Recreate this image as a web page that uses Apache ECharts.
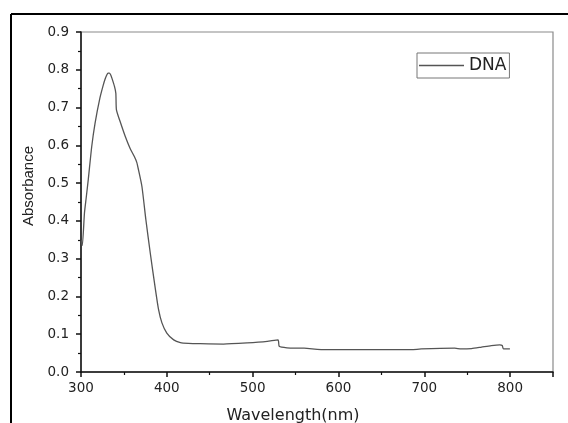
<!DOCTYPE html>
<html>
<head>
<meta charset="utf-8">
<script src="https://cdn.jsdelivr.net/npm/echarts@6/dist/echarts.min.js"></script>
<style>html,body{margin:0;padding:0;background:#fff;}#c{width:568px;height:423px;}</style>
</head>
<body>
<div id="c"></div>
<script>
const wavelength = [300,301.5,304,306,308.5,312.5,316.4,322,326,328,330,331.5,333,334.5,336,339,340.6,341.3,345.6,351.5,357,362,365,367,371,375.6,380.7,386.5,390.4,394.3,400,408,415.8,425,439,466,493.5,517,529.6,531,540,560,585.4,638,684.8,696.5,735.4,743,755,766.7,778,788,790.8,792.3,799.8];
const absorbance = [0.35,0.335,0.42,0.46,0.51,0.597,0.659,0.725,0.760,0.775,0.786,0.791,0.791,0.787,0.778,0.756,0.738,0.694,0.663,0.624,0.593,0.571,0.555,0.535,0.491,0.403,0.315,0.222,0.165,0.130,0.103,0.085,0.078,0.076,0.075,0.074,0.077,0.081,0.085,0.068,0.064,0.063,0.059,0.059,0.059,0.061,0.063,0.061,0.062,0.066,0.070,0.072,0.070,0.061,0.061];
const seriesName = 'DNA';
const xTitle = 'Wavelength(nm)';
const yTitle = 'Absorbance';

const chart = echarts.init(document.getElementById('c'), null, {renderer: 'canvas'});
const tickFont = {fontFamily: 'DejaVu Sans', fontSize: 13.5, color: '#222'};
chart.setOption({
  animation: false,
  grid: {left: 81, top: 32, right: 15, bottom: 51, outerBoundsMode: 'none', containLabel: false, show: true, borderColor: '#8a8a8a', borderWidth: 1.2, backgroundColor: 'transparent'},
  legend: {
    data: [{name: seriesName, icon: 'path://M0 0H45V1.3H0Z'}], left: 417, top: 53, orient: 'horizontal',
    itemWidth: 45, itemHeight: 1.3, itemGap: 5,
    borderColor: '#777', borderWidth: 1, padding: [4, 3, 4, 2],
    itemStyle: {color: '#555'},
    textStyle: {fontFamily: 'DejaVu Sans', fontSize: 17, color: '#222'}
  },
  xAxis: {
    type: 'value', min: 300, max: 850, interval: 100,
    name: xTitle, nameLocation: 'middle', nameGap: 36,
    nameTextStyle: {fontFamily: 'DejaVu Sans', fontSize: 16, color: '#222', padding: [0, 48, 0, 0]},
    axisLine: {show: true, onZero: false, lineStyle: {color: '#111', width: 1.5}},
    axisTick: {show: true, length: 5, lineStyle: {color: '#111', width: 1.5}},
    minorTick: {show: true, splitNumber: 2, length: 3, lineStyle: {color: '#111', width: 1.2}},
    axisLabel: Object.assign({margin: 9, showMaxLabel: false}, tickFont),
    splitLine: {show: false}
  },
  yAxis: {
    type: 'value', min: 0, max: 0.9, interval: 0.1,
    name: yTitle, nameLocation: 'middle', nameGap: 44, nameRotate: 90,
    nameTextStyle: {fontFamily: 'Liberation Sans', fontSize: 15, color: '#222', padding: [0, 0, 0, 32]},
    axisLine: {show: true, onZero: false, lineStyle: {color: '#111', width: 1.5}},
    axisTick: {show: true, length: 5, lineStyle: {color: '#111', width: 1.5}},
    minorTick: {show: true, splitNumber: 2, length: 3, lineStyle: {color: '#111', width: 1.2}},
    axisLabel: Object.assign({margin: 12, formatter: v => v.toFixed(1)}, tickFont),
    splitLine: {show: false}
  },
  graphic: [
    {type: 'line', shape: {x1: 11, y1: 14, x2: 568, y2: 14}, style: {stroke: '#000', lineWidth: 2}},
    {type: 'line', shape: {x1: 11, y1: 14, x2: 11, y2: 423}, style: {stroke: '#000', lineWidth: 2}}
  ],
  series: [{
    name: seriesName, type: 'line', showSymbol: false, symbol: 'none', smooth: 0.2,
    data: wavelength.map((w, i) => [w, absorbance[i]]),
    lineStyle: {color: '#555', width: 1.3},
    itemStyle: {color: '#555'}
  }]
});
</script>
</body>
</html>
